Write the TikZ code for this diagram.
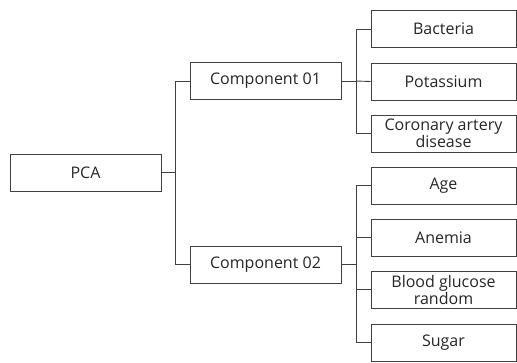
\documentclass[tikz,border=0pt]{standalone}
\usepackage{fontspec}
\setmainfont{Open Sans}
\begin{document}
\begin{tikzpicture}[x=1pt,y=-1pt,
  box/.style={draw=black!75,line width=0.9pt,minimum height=37pt,inner sep=1pt,align=center,font=\fontsize{16}{17}\selectfont,text=black!85},
  conn/.style={draw=black!75,line width=0.9pt}]
\useasboundingbox (0,0) rectangle (517,362);
\node[box,minimum width=151pt] (pca) at (85.5,172.5) {PCA};
\node[box,minimum width=151pt] (c1) at (265.5,81) {Component 01};
\node[box,minimum width=151pt] (c2) at (265.5,264.5) {Component 02};
\node[box,minimum width=145pt] (b1) at (443.5,29) {Bacteria};
\node[box,minimum width=145pt] (b2) at (443.5,81.5) {Potassium};
\node[box,minimum width=145pt] (b3) at (443.5,133.5) {Coronary artery\\disease};
\node[box,minimum width=145pt] (d1) at (443.5,185.5) {Age};
\node[box,minimum width=145pt] (d2) at (443.5,237.5) {Anemia};
\node[box,minimum width=145pt] (d3) at (443.5,289.5) {Blood glucose\\random};
\node[box,minimum width=145pt] (d4) at (443.5,342.5) {Sugar};
\coordinate (j0) at (175.5,172.5);
\coordinate (j1) at (356,81);
\coordinate (j2) at (356,264.5);
\draw[conn] (pca.east) -- (j0);
\draw[conn] (c1.west) -- ++(-14.5,0) |- (c2.west);
\draw[conn] (c1.east) -- (j1);
\draw[conn] (j1 |- b1.west) -- (b1.west);
\draw[conn] (j1 |- b1.west) |- (b3.west);
\draw[conn] (j1) -- (b2.west);
\draw[conn] (c2.east) -- (j2);
\draw[conn] (j2 |- d1.west) -- (d1.west);
\draw[conn] (j2 |- d1.west) |- (d4.west);
\draw[conn] (j2 |- d2.west) -- (d2.west);
\draw[conn] (j2 |- d3.west) -- (d3.west);
\end{tikzpicture}
\end{document}
